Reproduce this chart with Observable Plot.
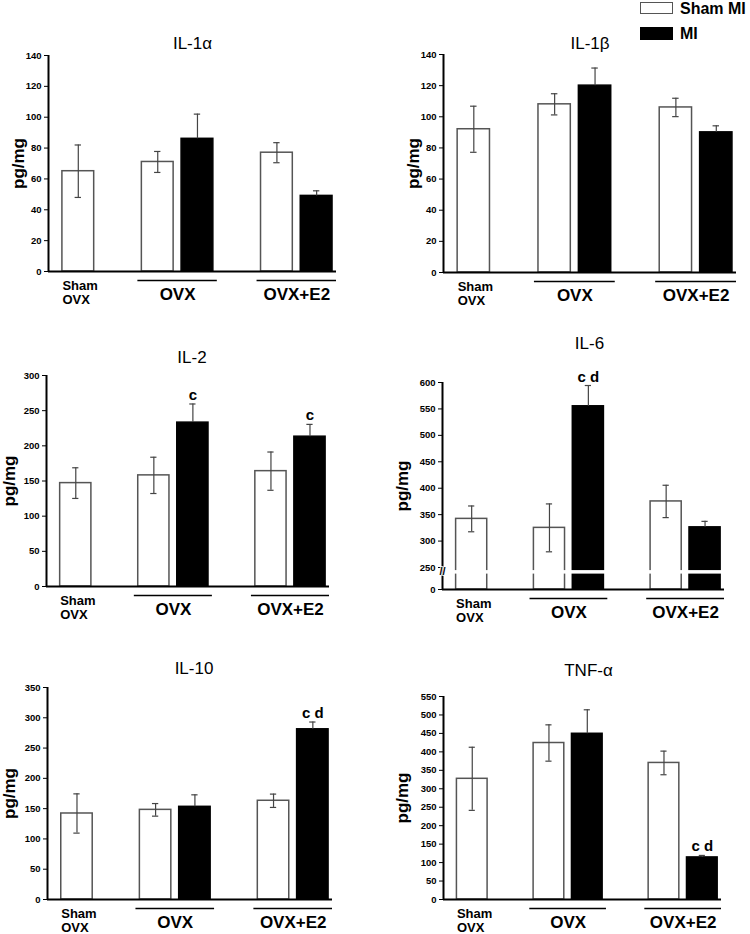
<!DOCTYPE html>
<html>
<head>
<meta charset="utf-8">
<script src="https://cdn.jsdelivr.net/npm/d3@7"></script>
<script src="https://cdn.jsdelivr.net/npm/@observablehq/plot@0.6"></script>
<style>
  body { margin: 0; background: #fff; }
  #root { position: relative; width: 750px; height: 934px; overflow: hidden; background: #fff;
          font-family: "Liberation Sans", Arial, sans-serif; }
  .panel { position: absolute; }
  .legend { position: absolute; left: 640px; font-weight: bold; font-size: 16px; line-height: 1; white-space: nowrap; }
  .legend .sw { position: absolute; left: 0; width: 33px; height: 12px; border: 1px solid #555; box-sizing: border-box; }
  .legend .lb { position: absolute; left: 40px; }
</style>
</head>
<body>
<div id="root"></div>
<script>
// ---- data ----
const groups = ["Sham OVX", "OVX", "OVX+E2"];
const groupLabels = ["Sham\nOVX", "OVX", "OVX+E2"];
const conditions = ["Sham MI", "MI"];
const barGroup = ["Sham OVX", "OVX", "OVX", "OVX+E2", "OVX+E2"];
const barCondition = ["Sham MI", "Sham MI", "MI", "Sham MI", "MI"];

const titles = ["IL-1α", "IL-1β", "IL-2", "IL-6", "IL-10", "TNF-α"];
const yLabel = "pg/mg";

const il1aMean = [65, 71, 86, 77, 49];
const il1aSem  = [17, 6.8, 16, 6.5, 3.3];
const il1aSig  = ["", "", "", "", ""];
const il1aTicks = [0, 20, 40, 60, 80, 100, 120, 140];

const il1bMean = [92, 108, 120, 106, 90];
const il1bSem  = [14.8, 6.8, 11.3, 5.9, 4.2];
const il1bSig  = ["", "", "", "", ""];
const il1bTicks = [0, 20, 40, 60, 80, 100, 120, 140];

const il2Mean = [147, 158, 233, 164, 213];
const il2Sem  = [21.8, 25.8, 26.5, 27.2, 17.5];
const il2Sig  = ["", "", "c", "", "c"];
const il2Ticks = [0, 50, 100, 150, 200, 250, 300];

const il6Mean = [342, 325, 555, 375, 326];
const il6Sem  = [24.4, 45.3, 39.3, 30.6, 11.3];
const il6Sig  = ["", "", "c d", "", ""];
const il6Ticks = [0, 250, 300, 350, 400, 450, 500, 550, 600];
const il6BreakAt = 250;      // axis break value
const il6LowSpan = 41.6;     // the 0–250 segment is drawn as tall as 41.6 units of the upper segment
const il6BreakBand = [175, 215];

const il10Mean = [142, 148, 153, 163, 281];
const il10Sem  = [32.4, 10.4, 19.8, 11, 12];
const il10Sig  = ["", "", "", "", "c d"];
const il10Ticks = [0, 50, 100, 150, 200, 250, 300, 350];

const tnfMean = [327, 424, 449, 370, 114];
const tnfSem  = [85.5, 49.2, 65, 32, 5.4];
const tnfSig  = ["", "", "", "", "c d"];
const tnfTicks = [0, 50, 100, 150, 200, 250, 300, 350, 400, 450, 500, 550];

const legendLabels = ["Sham MI", "MI"];

// ---- slot layout derived from groups/conditions ----
const slotOf = {};
let s = 0;
groups.forEach(g => {
  conditions.forEach(c => {
    if (barGroup.some((bg, i) => bg === g && barCondition[i] === c)) slotOf[g + "|" + c] = s++;
  });
  s++;
});
const nSlots = s - 1;
const xMin = -0.75, xMax = nSlots - 0.5;
const FONT = '"Liberation Sans", Arial, sans-serif';

const il6f = v => v <= il6BreakAt ? v / il6BreakAt * il6LowSpan : il6LowSpan + (v - il6BreakAt);

const panels = [
  {title: titles[0], mean: il1aMean, sem: il1aSem, sig: il1aSig, ticks: il1aTicks,
   left: 0, top: 0, height: 310, mL: 48, mT: 55, mB: 39, mR: 39, titleDy: 12, titleDx: 0, yDx: -30},
  {title: titles[1], mean: il1bMean, sem: il1bSem, sig: il1bSig, ticks: il1bTicks,
   left: 375, top: 0, height: 310, mL: 68, mT: 54, mB: 38, mR: 14, titleDy: 11, titleDx: 0, yDx: -30},
  {title: titles[2], mean: il2Mean, sem: il2Sem, sig: il2Sig, ticks: il2Ticks,
   left: 0, top: 310, height: 310, mL: 46, mT: 65, mB: 34, mR: 46, titleDy: 18, titleDx: 4, yDx: -37},
  {title: titles[3], mean: il6Mean, sem: il6Sem, sig: il6Sig, ticks: il6Ticks, yf: il6f, broken: true,
   left: 375, top: 310, height: 310, mL: 67, mT: 72, mB: 31, mR: 26, titleDy: 39, titleDx: 6, yDx: -40},
  {title: titles[4], mean: il10Mean, sem: il10Sem, sig: il10Sig, ticks: il10Ticks,
   left: 0, top: 620, height: 314, mL: 47, mT: 67, mB: 35, mR: 43, titleDy: 19, titleDx: 4, yDx: -38},
  {title: titles[5], mean: tnfMean, sem: tnfSem, sig: tnfSig, ticks: tnfTicks,
   left: 375, top: 620, height: 314, mL: 68, mT: 76, mB: 35, mR: 29, titleDy: 26, titleDx: 6, yDx: -41}
];

const root = document.getElementById("root");

function makePanel(cfg) {
  const width = 375;
  const f = cfg.yf || (v => v);
  const data = barGroup.map((g, i) => ({
    group: g, cond: barCondition[i], slot: slotOf[g + "|" + barCondition[i]],
    mean: cfg.mean[i], sem: cfg.sem[i], sig: cfg.sig[i]
  }));
  const white = data.filter(d => d.cond === conditions[0]);
  const black = data.filter(d => d.cond === conditions[1]);
  const groupData = groups.map((g, gi) => {
    const ss = data.filter(d => d.group === g).map(d => d.slot);
    return {label: groupLabels[gi], first: d3.min(ss), last: d3.max(ss), n: ss.length};
  });
  const single = groupData.filter(d => d.n === 1);
  const multi = groupData.filter(d => d.n > 1);

  const tickPos = cfg.ticks.map(f);
  const yScale = {
    domain: [tickPos[0], tickPos[tickPos.length - 1]],
    ticks: tickPos, tickSize: 4, tickPadding: 3, label: null,
    tickFormat: (d, i) => String(cfg.ticks[i])
  };

  const cap = 0.08;
  const marks = [
    Plot.rect(white, {x1: d => d.slot - 0.4, x2: d => d.slot + 0.4, y1: f(0), y2: d => f(d.mean),
      fill: "#fff", stroke: "#555", strokeWidth: 1.5}),
    Plot.rect(black, {x1: d => d.slot - 0.4, x2: d => d.slot + 0.4, y1: f(0), y2: d => f(d.mean),
      fill: "#000", stroke: "#000", strokeWidth: 1.5})
  ];
  if (cfg.broken) {
    marks.push(Plot.rect(data, {x1: d => d.slot - 0.46, x2: d => d.slot + 0.46,
      y1: f(il6BreakBand[0]), y2: f(il6BreakBand[1]), fill: "#fff"}));
  }
  marks.push(
    Plot.ruleX(white, {x: "slot", y1: d => f(d.mean - d.sem), y2: d => f(d.mean + d.sem), stroke: "#444", strokeWidth: 1.2}),
    Plot.ruleY(white, {y: d => f(d.mean - d.sem), x1: d => d.slot - cap, x2: d => d.slot + cap, stroke: "#444", strokeWidth: 1.2}),
    Plot.ruleY(white, {y: d => f(d.mean + d.sem), x1: d => d.slot - cap, x2: d => d.slot + cap, stroke: "#444", strokeWidth: 1.2}),
    Plot.ruleX(black, {x: "slot", y1: d => f(d.mean), y2: d => f(d.mean + d.sem), stroke: "#444", strokeWidth: 1.2}),
    Plot.ruleY(black, {y: d => f(d.mean + d.sem), x1: d => d.slot - cap, x2: d => d.slot + cap, stroke: "#444", strokeWidth: 1.2}),
    Plot.text(data.filter(d => d.sig), {x: "slot", y: d => f(d.mean + d.sem), text: "sig", dy: -4,
      lineAnchor: "bottom", fontSize: 15, fontWeight: "bold", fill: "#000"}),
    Plot.ruleY([f(0)], {stroke: "#000", strokeWidth: 2}),
    Plot.ruleX([xMin], {stroke: "#000", strokeWidth: 2}),
    Plot.ruleY(multi, {y: f(0), x1: d => d.first - 0.5, x2: d => d.last + 0.5, dy: 9, stroke: "#000", strokeWidth: 1.5}),
    Plot.text(multi, {x: d => (d.first + d.last) / 2, y: f(0), text: "label", dy: 16, lineAnchor: "top",
      fontSize: 17, fontWeight: "bold", fill: "#000"}),
    Plot.text(single, {x: d => d.first - 0.4, y: f(0), text: "label", dy: 8, lineAnchor: "top", textAnchor: "start",
      fontSize: 13, fontWeight: "bold", lineHeight: 1.1, fill: "#000"}),
    Plot.text([cfg.title], {frameAnchor: "top", dy: -cfg.titleDy, dx: cfg.titleDx, lineAnchor: "middle",
      fontSize: 17, fontWeight: "normal", fill: "#000"}),
    Plot.text([yLabel], {frameAnchor: "left", rotate: -90, dx: cfg.yDx, textAnchor: "middle", lineAnchor: "middle",
      fontSize: 17, fontWeight: "bold", fill: "#000"})
  );
  if (cfg.broken) {
    marks.push(Plot.text(["//"], {x: xMin, y: f(205), fontSize: 11, fontWeight: "bold", fill: "#000",
      stroke: "#fff", strokeWidth: 1.5, paintOrder: "stroke"}));
  }

  const svg = Plot.plot({
    width, height: cfg.height,
    marginLeft: cfg.mL, marginRight: cfg.mR, marginTop: cfg.mT, marginBottom: cfg.mB,
    x: {domain: [xMin, xMax], axis: null},
    y: yScale,
    style: {fontFamily: FONT, fontSize: "9.5px", fontWeight: "bold", background: "transparent", overflow: "visible", color: "#000"},
    marks
  });
  svg.classList.add("panel");
  svg.style.left = cfg.left + "px";
  svg.style.top = cfg.top + "px";
  svg.style.position = "absolute";
  root.appendChild(svg);
}

panels.forEach(makePanel);

// legend
const legend = document.createElement("div");
legend.className = "legend";
legend.style.top = "0px";
legendLabels.forEach((lab, i) => {
  const sw = document.createElement("div");
  sw.className = "sw";
  sw.style.top = (2 + i * 25) + "px";
  sw.style.background = i === 0 ? "#fff" : "#000";
  if (i === 1) { sw.style.borderColor = "#000"; sw.style.height = "13px"; }
  const lb = document.createElement("div");
  lb.className = "lb";
  lb.style.top = (1 + i * 25) + "px";
  lb.textContent = lab;
  legend.appendChild(sw);
  legend.appendChild(lb);
});
root.appendChild(legend);
</script>
</body>
</html>
